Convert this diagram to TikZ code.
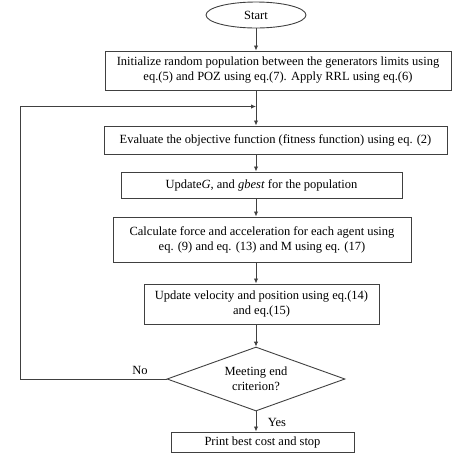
\documentclass[tikz,border=0pt]{standalone}
\usepackage{fontspec}
\setmainfont{Liberation Serif}
\usetikzlibrary{shapes.geometric,arrows.meta}
\begin{document}
\begin{tikzpicture}[x=1pt,y=1pt,
  font=\fontsize{12.5}{15}\selectfont,
  box/.style={draw=black!75,line width=1pt,rectangle,inner sep=0pt,align=center,fill=white},
  conn/.style={draw=black!75,line width=0.9pt},
  arr/.style={conn,-{Latex[length=5pt,width=4.5pt]}}]
\useasboundingbox (0,0) rectangle (467,-459);
\node[draw=black!75,line width=0.9pt,ellipse,minimum width=100pt,minimum height=26pt,inner sep=0pt] (start) at (256,-15) {Start};
\node[box,minimum width=346pt,minimum height=39pt] (init) at (278,-70.5)
  {Initialize random population between the generators limits using\\eq.(5) and POZ using eq.(7). Apply RRL using eq.(6)};
\node[box,minimum width=343pt,minimum height=28pt] (eval) at (275.5,-140)
  {Evaluate the objective function (fitness function) using eq. (2)};
\node[box,minimum width=281pt,minimum height=26pt] (upd) at (261.5,-185)
  {Update\textit{G}, and \textit{gbest} for the population};
\node[box,minimum width=298pt,minimum height=45pt] (calc) at (262,-239.5)
  {Calculate force and acceleration for each agent using\\eq. (9) and eq. (13) and M using eq. (17)};
\node[box,minimum width=235pt,minimum height=40pt] (vel) at (261.5,-304)
  {Update velocity and position using eq.(14)\\and eq.(15)};
\node[draw=black!75,line width=0.9pt,diamond,aspect=2.78,minimum width=178pt,minimum height=64pt,inner sep=0pt,align=center] (dec) at (256,-379)
  {Meeting end\\criterion?};
\node[box,minimum width=183pt,minimum height=20pt] (print) at (262.5,-442)
  {Print best cost and stop};
\coordinate (join) at (256,-106.5);
\coordinate (c1) at (20,-379);
\coordinate (c2) at (20,-106.5);
\draw[arr] (start.south) -- (start.south |- init.north);
\draw[conn] (start.south |- init.south) -- (join);
\draw[arr] (join) -- (join |- eval.north);
\draw[arr] (join |- eval.south) -- (join |- upd.north);
\draw[arr] (join |- upd.south) -- (join |- calc.north);
\draw[arr] (join |- calc.south) -- (join |- vel.north);
\draw[arr] (join |- vel.south) -- (dec.north);
\draw[arr] (dec.south) -- (dec.south |- print.north);
\draw[conn] (dec.west) -- (c1) -- (c2);
\draw[arr] (c2) -- (join);
\node (no) at (140,-370) {No};
\node (yes) at (277,-422) {Yes};
\end{tikzpicture}
\end{document}
